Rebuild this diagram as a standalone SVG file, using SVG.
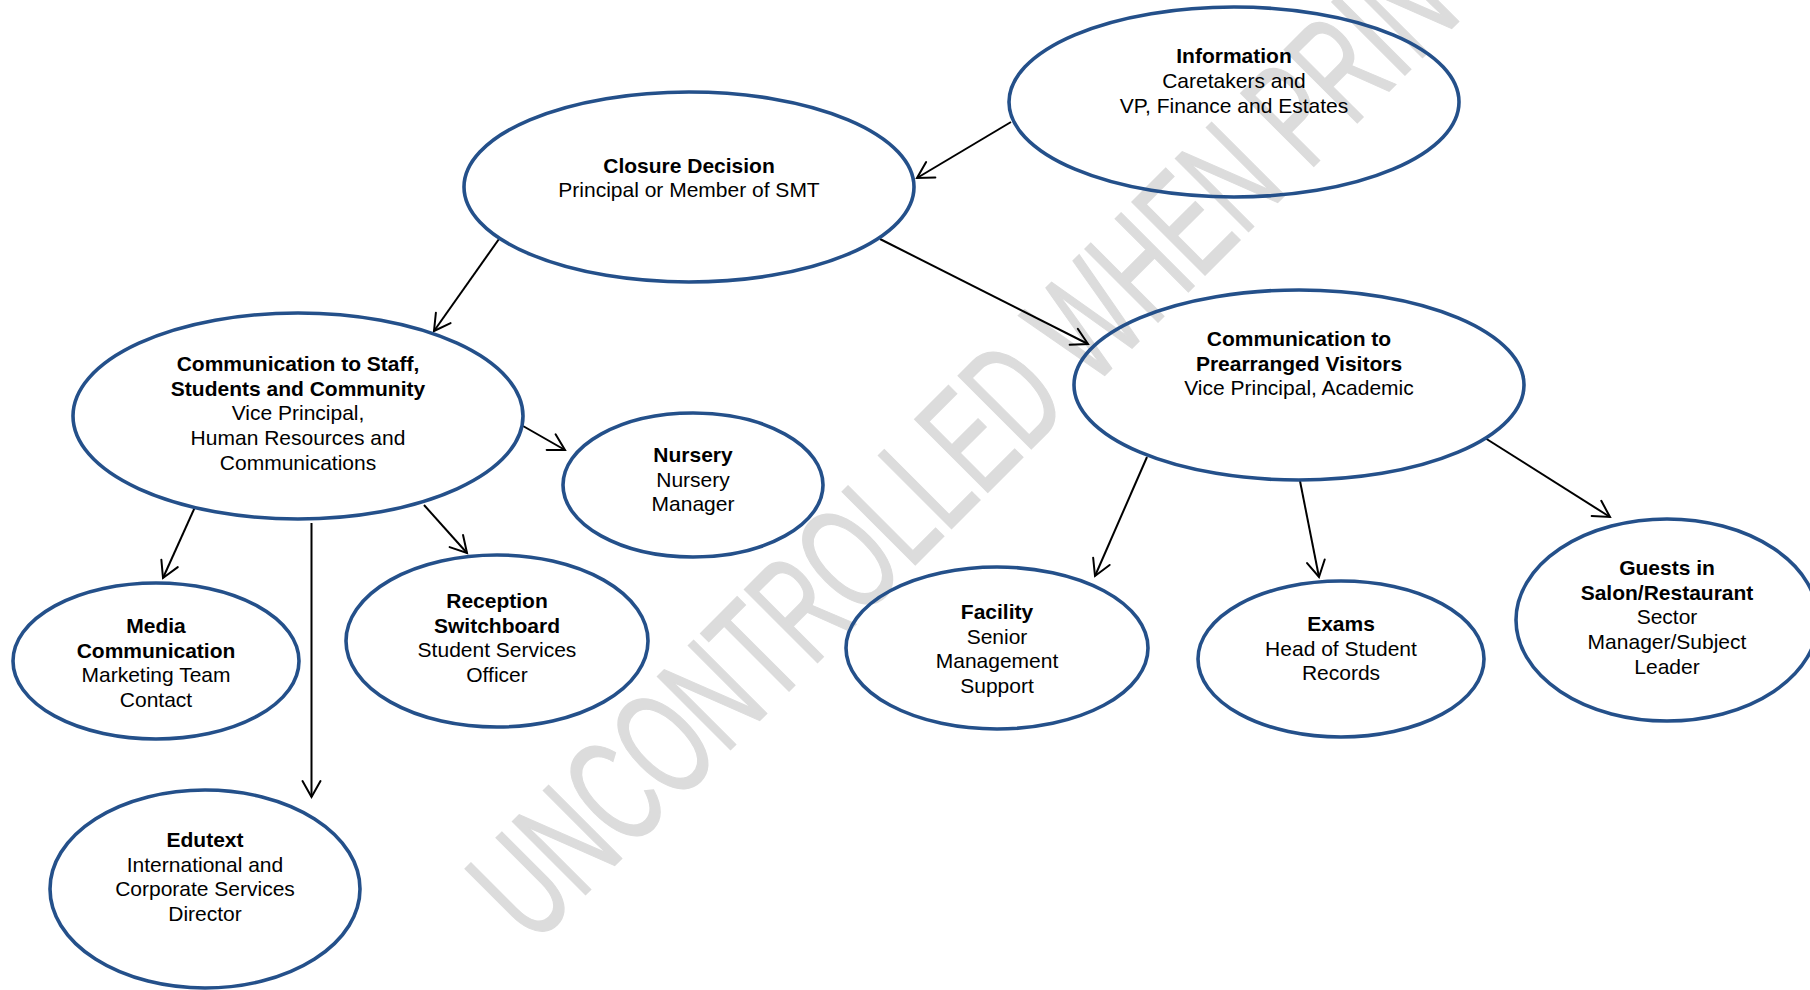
<svg xmlns="http://www.w3.org/2000/svg" width="1810" height="990" viewBox="0 0 1810 990">
<defs>
<marker id="arr" markerUnits="userSpaceOnUse" orient="auto" markerWidth="30" markerHeight="30" refX="0" refY="0" viewBox="-20 -15 30 30" overflow="visible">
<path d="M-16,-9 L0,0 L-16,9" fill="none" stroke="#000" stroke-width="2" stroke-linecap="round" stroke-linejoin="miter"/>
</marker>
<style>
.n{fill:none;stroke:#24508a;stroke-width:3.6}
.t{font-family:"Liberation Sans",Arial,sans-serif;font-size:21px;fill:#000;text-anchor:middle}
.b{font-weight:bold}
.c{stroke:#000;stroke-width:2;fill:none;marker-end:url(#arr)}
.wm{font-family:"Liberation Sans",Arial,sans-serif;font-size:150px;fill:#dcdcdc;stroke:#dcdcdc;stroke-width:1.5}
</style>
</defs>
<rect width="1810" height="990" fill="#fff"/>
<text class="wm" transform="translate(533,947) rotate(-45)" textLength="1501" lengthAdjust="spacingAndGlyphs">UNCONTROLLED WHEN PRINTED</text>
<g id="connectors">
<line class="c" x1="1011" y1="122" x2="917" y2="178"/>
<line class="c" x1="499" y1="239" x2="434" y2="331"/>
<line class="c" x1="880" y1="239" x2="1088" y2="344"/>
<line class="c" x1="523" y1="426" x2="565" y2="450"/>
<line class="c" x1="195" y1="507" x2="163" y2="578"/>
<line class="c" x1="311.5" y1="523" x2="311.5" y2="797"/>
<line class="c" x1="424" y1="505" x2="467" y2="553"/>
<line class="c" x1="1147" y1="457" x2="1095" y2="576"/>
<line class="c" x1="1300" y1="481" x2="1319" y2="577"/>
<line class="c" x1="1485" y1="438" x2="1610" y2="517"/>
</g>
<g id="information">
<ellipse class="n" cx="1234" cy="102" rx="225" ry="95"/>
<text class="t"><tspan class="b" x="1234" y="63">Information</tspan><tspan x="1234" y="88">Caretakers and</tspan><tspan x="1234" y="113">VP, Finance and Estates</tspan></text>
</g>
<g id="closure">
<ellipse class="n" cx="689" cy="187" rx="225" ry="95"/>
<text class="t"><tspan class="b" x="689" y="173">Closure Decision</tspan><tspan x="689" y="197">Principal or Member of SMT</tspan></text>
</g>
<g id="staff">
<ellipse class="n" cx="298" cy="416" rx="225" ry="103"/>
<text class="t"><tspan class="b" x="298" y="371">Communication to Staff,</tspan><tspan class="b" x="298" y="395.7">Students and Community</tspan><tspan x="298" y="420.4">Vice Principal,</tspan><tspan x="298" y="445.1">Human Resources and</tspan><tspan x="298" y="469.8">Communications</tspan></text>
</g>
<g id="prearranged">
<ellipse class="n" cx="1299" cy="385" rx="225" ry="95"/>
<text class="t"><tspan class="b" x="1299" y="346">Communication to</tspan><tspan class="b" x="1299" y="370.5">Prearranged Visitors</tspan><tspan x="1299" y="395">Vice Principal, Academic</tspan></text>
</g>
<g id="nursery">
<ellipse class="n" cx="693" cy="485" rx="130" ry="72"/>
<text class="t"><tspan class="b" x="693" y="462">Nursery</tspan><tspan x="693" y="486.7">Nursery</tspan><tspan x="693" y="511">Manager</tspan></text>
</g>
<g id="media">
<ellipse class="n" cx="156" cy="661" rx="143" ry="78"/>
<text class="t"><tspan class="b" x="156" y="633">Media</tspan><tspan class="b" x="156" y="657.7">Communication</tspan><tspan x="156" y="682.4">Marketing Team</tspan><tspan x="156" y="707">Contact</tspan></text>
</g>
<g id="reception">
<ellipse class="n" cx="497" cy="641" rx="151" ry="86"/>
<text class="t"><tspan class="b" x="497" y="608">Reception</tspan><tspan class="b" x="497" y="632.7">Switchboard</tspan><tspan x="497" y="657.4">Student Services</tspan><tspan x="497" y="682">Officer</tspan></text>
</g>
<g id="edutext">
<ellipse class="n" cx="205" cy="889" rx="155" ry="99"/>
<text class="t"><tspan class="b" x="205" y="847">Edutext</tspan><tspan x="205" y="871.7">International and</tspan><tspan x="205" y="896.4">Corporate Services</tspan><tspan x="205" y="921">Director</tspan></text>
</g>
<g id="facility">
<ellipse class="n" cx="997" cy="648" rx="151" ry="81"/>
<text class="t"><tspan class="b" x="997" y="619">Facility</tspan><tspan x="997" y="643.5">Senior</tspan><tspan x="997" y="668">Management</tspan><tspan x="997" y="692.7">Support</tspan></text>
</g>
<g id="exams">
<ellipse class="n" cx="1341" cy="659" rx="143" ry="78"/>
<text class="t"><tspan class="b" x="1341" y="631">Exams</tspan><tspan x="1341" y="655.7">Head of Student</tspan><tspan x="1341" y="680.4">Records</tspan></text>
</g>
<g id="guests">
<ellipse class="n" cx="1667" cy="620" rx="151" ry="101"/>
<text class="t"><tspan class="b" x="1667" y="575">Guests in</tspan><tspan class="b" x="1667" y="599.7">Salon/Restaurant</tspan><tspan x="1667" y="624.4">Sector</tspan><tspan x="1667" y="649">Manager/Subject</tspan><tspan x="1667" y="673.7">Leader</tspan></text>
</g>
</svg>
